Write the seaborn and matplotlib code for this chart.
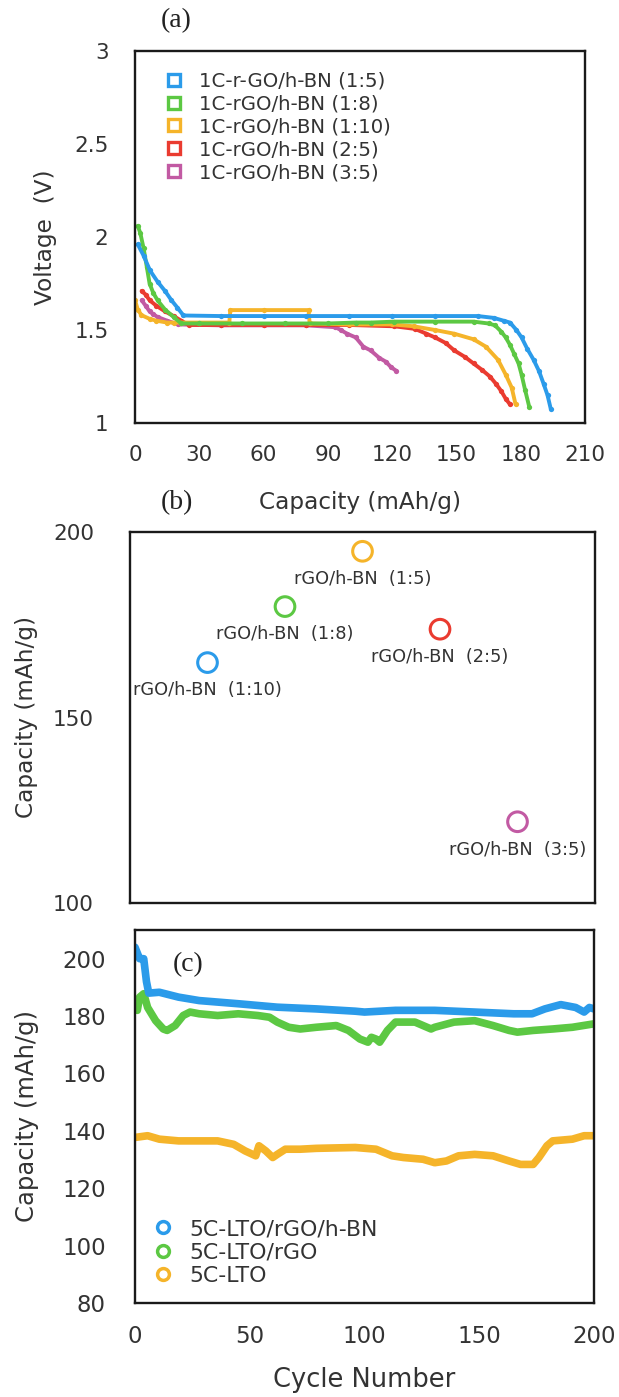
import numpy as np
import pandas as pd
import matplotlib
matplotlib.use("Agg")
import matplotlib.pyplot as plt
from matplotlib.lines import Line2D
import seaborn as sns

# ---------------- data: panel (a) discharge curves ----------------
a_labels = ["1C-r-GO/h-BN (1:5)", "1C-rGO/h-BN (1:8)", "1C-rGO/h-BN (1:10)",
            "1C-rGO/h-BN (2:5)", "1C-rGO/h-BN (3:5)"]
a_colors = ["#2B9BEA", "#5CC843", "#F5B42A", "#EA3B30", "#C25AA3"]

cap_15 = [1.3, 4, 7, 10.5, 14, 17, 19.8, 22.6, 40, 60, 80, 100, 120, 140, 160,
          167.5, 172, 175, 178, 180.4, 183, 186, 188.5, 190.7, 192.5, 194]
v_15 = [1.96, 1.90, 1.82, 1.76, 1.71, 1.66, 1.62, 1.578, 1.575, 1.575, 1.575, 1.575,
        1.575, 1.575, 1.575, 1.565, 1.55, 1.54, 1.50, 1.46, 1.40, 1.34, 1.28, 1.21,
        1.15, 1.077]

cap_18 = [1.3, 2.5, 4, 5.5, 6.8, 8.5, 10.5, 14, 18, 21.6, 30, 50, 70, 90, 103, 110,
          121, 140, 158, 165, 168, 171, 173, 175, 177, 179, 180.4, 182, 184]
v_18 = [2.06, 2.02, 1.94, 1.84, 1.75, 1.70, 1.66, 1.61, 1.57, 1.535, 1.535, 1.535,
        1.535, 1.535, 1.54, 1.54, 1.545, 1.545, 1.545, 1.535, 1.525, 1.49, 1.46, 1.42,
        1.37, 1.32, 1.26, 1.18, 1.086]

cap_110 = [0, 1.3, 3, 6.8, 10, 15, 18, 21.6, 30, 44, 44.5, 60, 81, 81.5, 100, 120,
           130, 140, 149, 158, 163.8, 169.4, 173, 175.8, 177.6]
v_110 = [1.66, 1.61, 1.58, 1.56, 1.55, 1.54, 1.54, 1.54, 1.54, 1.54, 1.607, 1.607,
         1.607, 1.535, 1.53, 1.53, 1.52, 1.50, 1.48, 1.45, 1.41, 1.34, 1.26, 1.19, 1.10]

cap_25 = [3.1, 5, 6.8, 10, 14, 18, 21.6, 25, 40, 60, 80, 100, 121, 130.6, 136, 140,
          145, 149, 154, 158, 162, 165.6, 168.5, 171, 173, 175]
v_25 = [1.71, 1.69, 1.66, 1.63, 1.60, 1.575, 1.55, 1.527, 1.527, 1.527, 1.527, 1.527,
        1.52, 1.506, 1.48, 1.46, 1.43, 1.39, 1.355, 1.32, 1.285, 1.25, 1.21, 1.17,
        1.13, 1.10]

cap_35 = [3.1, 5, 6.8, 8.5, 10.5, 15, 20, 40, 60, 80, 93.5, 96, 99, 103, 106.6, 110,
          114, 117, 119.5, 122]
v_35 = [1.66, 1.63, 1.60, 1.585, 1.57, 1.55, 1.53, 1.525, 1.525, 1.525, 1.515, 1.50,
        1.48, 1.46, 1.41, 1.39, 1.35, 1.33, 1.30, 1.28]

a_xticks = [0, 30, 60, 90, 120, 150, 180, 210]
a_yticks = [1, 1.5, 2, 2.5, 3]
a_yticklabels = ["1", "1.5", "2", "2.5", "3"]

# ---------------- data: panel (b) capacities ----------------
b_pos = [1, 2, 3, 4, 5]
b_capacity = [164.8, 179.9, 194.8, 173.8, 121.9]
b_labels = ["rGO/h-BN  (1:10)", "rGO/h-BN  (1:8)", "rGO/h-BN  (1:5)",
            "rGO/h-BN  (2:5)", "rGO/h-BN  (3:5)"]
b_colors = ["#2B9BEA", "#5CC843", "#F5B42A", "#EA3B30", "#C25AA3"]

# ---------------- data: panel (c) cycling ----------------
c_labels = ["5C-LTO/rGO/h-BN", "5C-LTO/rGO", "5C-LTO"]
c_colors = ["#2B9BEA", "#5CC843", "#F5B42A"]

cyc_blue = [0, 2, 3.8, 5, 6, 10.6, 19, 28, 45, 62, 79, 96, 100, 113.5, 130.6, 148,
            165, 173, 178.6, 185.5, 192, 195.7, 198, 200]
cap_blue = [204, 200, 200, 192, 188, 188.3, 186.6, 185.4, 184.3, 183.1, 182.5, 181.7,
            181.4, 182, 182, 181.4, 180.8, 180.8, 182.5, 184, 183, 181.4, 183, 182.5]

cyc_green = [0, 1, 2, 3.8, 5.5, 9, 12.3, 14, 17.5, 21, 24, 28, 36, 45, 53.5, 58.6,
             62, 67, 72, 79, 87.7, 93, 98, 101.5, 103, 105, 106.6, 110, 113.5, 122,
             129, 130.6, 139, 148, 156, 163, 166.6, 173.5, 182, 190.6, 200]
cap_green = [184.3, 182, 186.6, 187.8, 183, 178.4, 175.5, 175, 176.7, 180.2, 181.4,
             180.8, 180.2, 180.8, 180.2, 179.6, 177.9, 176.1, 175.5, 176.1, 176.7, 175,
             172, 170.9, 172.6, 172, 170.9, 175, 177.9, 177.9, 175.5, 176.1, 177.9,
             178.4, 176.7, 175, 174.4, 175, 175.5, 176.1, 177.3]

cyc_orange = [0, 5.5, 10.6, 19, 28, 36, 43, 48, 52.6, 54, 57, 60, 62, 65.5, 72, 79,
              96, 105, 112, 117, 125.5, 130.6, 135.7, 141, 148, 156, 163, 168, 173.5,
              176, 179.5, 182, 190.6, 195.7, 200]
cap_orange = [137.7, 138.3, 137.1, 136.5, 136.5, 136.5, 135.3, 133, 131.3, 134.8, 133,
              130.7, 131.8, 133.6, 133.6, 133.9, 134.2, 133.6, 131.3, 130.7, 130.1,
              128.9, 129.5, 131.3, 131.8, 131.3, 129.5, 128.3, 128.3, 130.7, 134.8,
              136.5, 137.1, 138.3, 138.3]

c_xticks = [0, 50, 100, 150, 200]
c_yticks = [80, 100, 120, 140, 160, 180, 200]

# ---------------- style ----------------
sns.set_style("white")
plt.rcParams["font.family"] = ["DejaVu Sans"]
plt.rcParams["axes.edgecolor"] = "#1a1a1a"
plt.rcParams["axes.linewidth"] = 1.7
TXT = "#333333"

W, H = 619, 1397
fig = plt.figure(figsize=(W / 100, H / 100), dpi=100)


def axes_px(left, top, right, bottom):
    return fig.add_axes([left / W, 1 - bottom / H, (right - left) / W, (bottom - top) / H])


# ---------------- panel (a) ----------------
ax_a = axes_px(135, 51, 585, 423)
a_series = [(cap_15, v_15), (cap_18, v_18), (cap_110, v_110), (cap_25, v_25), (cap_35, v_35)]
rows = []
for lab, (cx, vy) in zip(a_labels, a_series):
    for c_, v_ in zip(cx, vy):
        rows.append((lab, c_, v_))
df_a = pd.DataFrame(rows, columns=["series", "capacity", "voltage"])
for lab in a_labels[::-1]:
    sub = df_a[df_a["series"] == lab]
    sns.lineplot(data=sub, x="capacity", y="voltage", ax=ax_a, color=a_colors[a_labels.index(lab)],
                 lw=2.8, marker="o", markersize=3.8, markeredgewidth=0, estimator=None, sort=False,
                 legend=False)
ax_a.set_xlim(0, 210)
ax_a.set_ylim(1, 3)
ax_a.set_xticks(a_xticks)
ax_a.set_yticks(a_yticks)
ax_a.set_yticklabels(a_yticklabels)
ax_a.tick_params(axis="both", length=0, labelsize=15.5, colors=TXT)
ax_a.tick_params(axis="y", pad=19)
ax_a.tick_params(axis="x", pad=16)
ax_a.set_xlabel("Capacity (mAh/g)", fontsize=16.7, color=TXT, va="top")
ax_a.set_ylabel("Voltage  (V)", fontsize=16.7, color=TXT)
ax_a.xaxis.set_label_coords(0.5, -0.183)
ax_a.yaxis.set_label_coords(-0.173, 0.5)
handles_a = [Line2D([], [], ls="none", marker="s", markersize=8, markerfacecolor="none",
                    markeredgecolor=c, markeredgewidth=2.4) for c in a_colors]
ax_a.legend(handles_a, a_labels, loc="upper left", bbox_to_anchor=(0.069, 0.945),
            frameon=False, fontsize=14.2, handlelength=0.8, handletextpad=0.85,
            labelspacing=0.2, borderpad=0, borderaxespad=0, labelcolor=TXT)
fig.text(176 / W, 1 - 21 / H, "(a)", family="Liberation Serif", fontsize=20,
         ha="center", va="center", color="#222222")

# ---------------- panel (b) ----------------
ax_b = axes_px(130, 532, 595, 903)
df_b = pd.DataFrame({"pos": b_pos, "capacity": b_capacity, "label": b_labels})
sns.scatterplot(data=df_b, x="pos", y="capacity", hue="label", palette=b_colors,
                hue_order=b_labels, s=200, linewidth=2.2, ax=ax_b, legend=False)
coll = ax_b.collections[0]
fc = coll.get_facecolors()
coll.set_edgecolors(fc)
coll.set_facecolors("none")
for x_, y_, lab in zip(b_pos, b_capacity, b_labels):
    ax_b.annotate(lab, (x_, y_), xytext=(0, -20), textcoords="offset points",
                  ha="center", va="center", fontsize=12.8, color=TXT)
ax_b.set_xlim(0, 6)
ax_b.set_ylim(100, 200)
ax_b.set_xticks([1.5, 3, 4.5])
ax_b.set_xticklabels([])
ax_b.set_yticks([100, 150, 200])
ax_b.tick_params(axis="both", direction="in", length=4, width=1.4, colors="#1a1a1a",
                 labelcolor=TXT, labelsize=15.5)
ax_b.tick_params(axis="y", pad=26)
ax_b.set_xlabel("")
ax_b.set_ylabel("Capacity (mAh/g)", fontsize=16.7, color=TXT)
ax_b.yaxis.set_label_coords(-0.198, 0.5)
fig.text(177 / W, 1 - 503 / H, "(b)", family="Liberation Serif", fontsize=20,
         ha="center", va="center", color="#222222")

# ---------------- panel (c) ----------------
ax_c = axes_px(135, 930, 594, 1303)
c_series = [(cyc_blue, cap_blue), (cyc_green, cap_green), (cyc_orange, cap_orange)]
for lab, col, (cx, cy) in list(zip(c_labels, c_colors, c_series))[::-1]:
    sub = pd.DataFrame({"cycle": cx, "capacity": cy})
    sns.lineplot(data=sub, x="cycle", y="capacity", ax=ax_c, color=col, lw=5.5,
                 estimator=None, sort=False, legend=False)
ax_c.set_xlim(0, 200)
ax_c.set_ylim(80, 210)
ax_c.set_xticks(c_xticks)
ax_c.set_yticks(c_yticks)
ax_c.tick_params(axis="both", length=0, labelsize=16.5, colors=TXT)
ax_c.tick_params(axis="y", pad=21)
ax_c.tick_params(axis="x", pad=16)
ax_c.set_xlabel("Cycle Number", fontsize=18.5, color=TXT, va="top")
ax_c.set_ylabel("Capacity (mAh/g)", fontsize=17.5, color=TXT)
ax_c.xaxis.set_label_coords(0.5, -0.172)
ax_c.yaxis.set_label_coords(-0.209, 0.5)
handles_c = [Line2D([], [], ls="none", marker="o", markersize=8.5, markerfacecolor="none",
                    markeredgecolor=c, markeredgewidth=2.5) for c in c_colors]
ax_c.legend(handles_c, c_labels, loc="upper left", bbox_to_anchor=(0.042, 0.225),
            frameon=False, fontsize=15.8, handlelength=0.8, handletextpad=0.8,
            labelspacing=0.15, borderpad=0, borderaxespad=0, labelcolor=TXT)
ax_c.text(0.116, 0.906, "(c)", transform=ax_c.transAxes, family="Liberation Serif",
          fontsize=20, ha="center", va="center", color="#222222")

for ax in (ax_a, ax_b, ax_c):
    for sp in ax.spines.values():
        sp.set_visible(True)
        sp.set_color("#1a1a1a")
        sp.set_linewidth(1.7)

fig.savefig("out.png", dpi=100)
